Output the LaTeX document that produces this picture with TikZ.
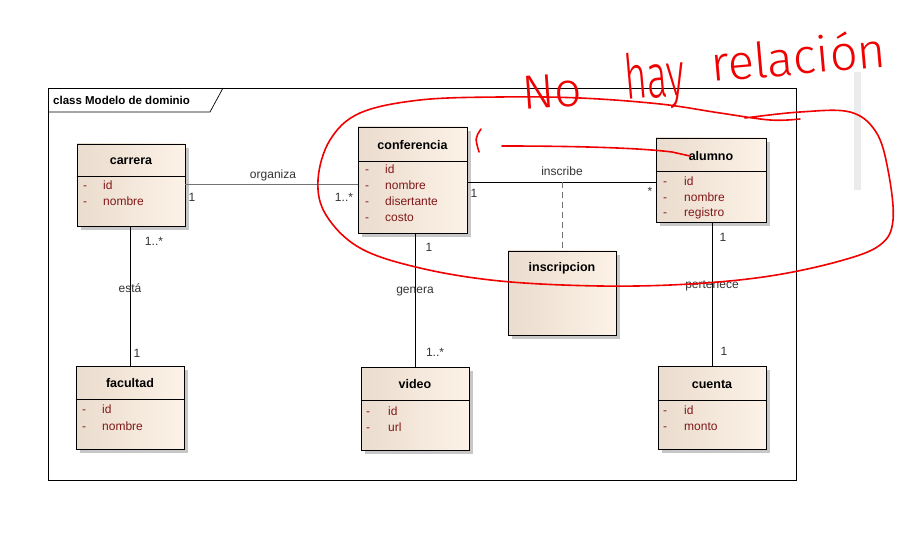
\documentclass[tikz,border=0pt]{standalone}
\usepackage{fontspec}
\setmainfont{Liberation Sans}
\newfontfamily\handfont{Fira Sans Light}
\usetikzlibrary{shadows,calc}
\definecolor{clsL}{RGB}{234,220,206}
\definecolor{clsR}{RGB}{253,242,231}
\definecolor{attr}{RGB}{128,24,24}
\definecolor{lbl}{RGB}{51,51,51}
\definecolor{ink}{RGB}{240,0,0}
\begin{document}
\begin{tikzpicture}[x=1pt,y=-1pt,
  cls/.style={draw=black, line width=0.7pt, left color=clsL, right color=clsR, inner sep=0pt,
    drop shadow={shadow xshift=4pt, shadow yshift=-4pt, fill=black!22, opacity=1}},
  ttl/.style={font=\fontsize{12.5}{14}\selectfont\bfseries, inner sep=0pt},
  att/.style={font=\fontsize{12}{14}\selectfont, text=attr, anchor=west, inner sep=0pt,
    text height=8.5pt, text depth=2.5pt},
  lab/.style={font=\fontsize{12}{14}\selectfont, text=lbl, inner sep=0pt},
  hand/.style={text=ink, inner sep=0pt, anchor=base west},
  assoc/.style={line width=0.7pt, draw=black},
  sepline/.style={line width=0.7pt, draw=black},
  redink/.style={draw=ink, line width=1.6pt, line cap=round, line join=round}
]
\useasboundingbox (0,0) rectangle (899,537);
\fill[white] (0,0) rectangle (899,537);
\fill[black!8] (854,72) rectangle (861,190);

% frame
\node[draw=black, line width=0.7pt, minimum width=748pt, minimum height=392pt, inner sep=0pt] (frame) at (422,284) {};
\draw[line width=0.7pt] (48,112) -- (210,112) -- (223,88);
\node[font=\fontsize{11.5}{13}\selectfont\bfseries, anchor=west, inner sep=0pt] (frameT) at (53,100) {class Modelo de dominio};

% classes
\node[cls, minimum width=108pt, minimum height=82pt] (carrera) at (131,185) {};
\draw[sepline] (carrera.west |- 0,176) -- (carrera.east |- 0,176);
\node[ttl] (carreraT) at (131,161) {carrera};
\foreach \n/\yy [count=\i] in {id/187,nombre/203}{
  \node[att] (carrera-d\i) at (83,\yy) {-};
  \node[att] (carrera-a\i) at (103,\yy) {\n};}

\node[cls, minimum width=109pt, minimum height=106pt] (conferencia) at (412.5,180) {};
\draw[sepline] (conferencia.west |- 0,161) -- (conferencia.east |- 0,161);
\node[ttl] (conferenciaT) at (412.5,145) {conferencia};
\foreach \n/\yy [count=\i] in {id/171,nombre/187,disertante/203,costo/219}{
  \node[att] (conferencia-d\i) at (365,\yy) {-};
  \node[att] (conferencia-a\i) at (385,\yy) {\n};}

\node[cls, minimum width=110pt, minimum height=84pt] (alumno) at (711,180) {};
\draw[sepline] (alumno.west |- 0,171) -- (alumno.east |- 0,171);
\node[ttl] (alumnoT) at (711,156) {alumno};
\foreach \n/\yy [count=\i] in {id/183,nombre/199,registro/214}{
  \node[att] (alumno-d\i) at (663,\yy) {-};
  \node[att] (alumno-a\i) at (684,\yy) {\n};}

\node[cls, minimum width=108pt, minimum height=84pt] (inscripcion) at (562,293) {};
\node[ttl] (inscripcionT) at (562,268) {inscripcion};

\node[cls, minimum width=108pt, minimum height=83pt] (facultad) at (130,407.5) {};
\draw[sepline] (facultad.west |- 0,399) -- (facultad.east |- 0,399);
\node[ttl] (facultadT) at (130,383) {facultad};
\foreach \n/\yy [count=\i] in {id/410,nombre/427}{
  \node[att] (facultad-d\i) at (82,\yy) {-};
  \node[att] (facultad-a\i) at (102,\yy) {\n};}

\node[cls, minimum width=108pt, minimum height=83pt] (video) at (415,408.5) {};
\draw[sepline] (video.west |- 0,400) -- (video.east |- 0,400);
\node[ttl] (videoT) at (415,384) {video};
\foreach \n/\yy [count=\i] in {id/412,url/428}{
  \node[att] (video-d\i) at (366,\yy) {-};
  \node[att] (video-a\i) at (388,\yy) {\n};}

\node[cls, minimum width=108pt, minimum height=83pt] (cuenta) at (712,407.5) {};
\draw[sepline] (cuenta.west |- 0,400) -- (cuenta.east |- 0,400);
\node[ttl] (cuentaT) at (712,384) {cuenta};
\foreach \n/\yy [count=\i] in {id/411,monto/427}{
  \node[att] (cuenta-d\i) at (663,\yy) {-};
  \node[att] (cuenta-a\i) at (684,\yy) {\n};}

% associations
\draw[assoc, draw=black!55] (carrera.east |- 0,184) -- (conferencia.west |- 0,184);
\node[lab] (organiza) at (273,175) {organiza};
\node[lab] (m1) at (192,197) {1};
\node[lab] (m2) at (344,197) {1..*};

\draw[assoc] (conferencia.east |- 0,182) -- (alumno.west |- 0,182);
\coordinate (mid) at (562,182);
\draw[assoc, draw=black!55, dash pattern=on 6pt off 4pt] (mid) -- (inscripcion.north);
\node[lab] (inscribe) at (562,171) {inscribe};
\node[lab] (m3) at (474,193) {1};
\node[lab] (m4) at (650,191) {*};

\draw[assoc] (facultad.north |- carrera.south) -- (facultad.north);
\node[lab] (esta) at (130,288) {está};
\node[lab] (m5) at (154,241) {1..*};
\node[lab] (m6) at (137,353) {1};

\draw[assoc] (video.north |- conferencia.south) -- (video.north);
\node[lab] (genera) at (415,292) {genera};
\node[lab] (m7) at (429,247) {1};
\node[lab] (m8) at (435,352) {1..*};

\draw[assoc] (cuenta.north |- alumno.south) -- (cuenta.north);
\node[lab] (pertenece) at (712,286) {pertenece};
\node[lab] (m9) at (723,237) {1};
\node[lab] (m10) at (724,351) {1};

% red annotations
\node[hand, font=\handfont\fontsize{48}{56}\selectfont, rotate=4] (notaA) at (523,110) {No};
\node[hand, font=\handfont\fontsize{62}{70}\selectfont, rotate=5, xscale=0.62] (notaB) at (626,100) {hay};
\node[hand, font=\handfont\fontsize{49}{57}\selectfont, rotate=5] (notaC) at (712,82) {relación};
\draw[redink] plot[smooth, tension=0.6] coordinates {
  (745,118) (800,112) (850,112) (876,132) (888,170) (893,220) (880,245) (840,261)
  (770,276) (690,284) (600,286) (500,281) (420,268) (360,248) (326,215) (318,180)
  (330,140) (360,113) (420,100) (500,97) (580,98) (660,104) (720,113) (770,120) (800,119)};
\draw[redink] (481,129) .. controls (475,138) .. (479,152);
\draw[redink] (502,146) .. controls (580,146) and (640,148) .. (672,152) -- (690,156);
\end{tikzpicture}
\end{document}
